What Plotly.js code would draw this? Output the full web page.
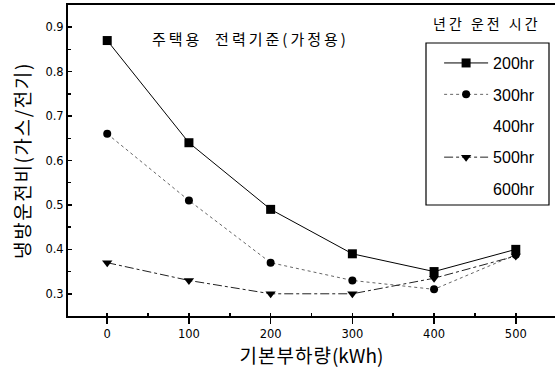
<!DOCTYPE html>
<html><head><meta charset="utf-8">
<script src="https://cdn.plot.ly/plotly-3.0.1.min.js"></script>
<style>html,body{margin:0;padding:0;overflow:hidden;background:#fff}</style>
</head><body>
<div id="chart" style="width:555px;height:370px"></div>
<script>
const loads = [0, 100, 200, 300, 400, 500];
const hr200 = [0.87, 0.64, 0.49, 0.39, 0.35, 0.40];
const hr300 = [0.66, 0.51, 0.37, 0.33, 0.31, 0.388];
const hr500 = [0.37, 0.33, 0.30, 0.30, 0.335, 0.385];
const seriesNames = ['200hr', '300hr', '400hr', '500hr', '600hr'];
const chartTitle = '주택용  전력기준(가정용)';
const legendTitle = '년간 운전 시간';
const xTitleMain = '기본부하량';
const xTitleUnit = '(kWh)';
const yTitle = '냉방운전비(가스/전기)';

const kfont = '"Noto Sans CJK KR", "Noto Sans", sans-serif';
function spaced(t, px) { return '<span style="letter-spacing:' + px + 'px">' + t + '</span>'; }

const traces = [
  {x: loads, y: hr200, name: seriesNames[0], legendgroup: 'a', mode: 'lines+markers',
   line: {color: '#000', width: 1}, marker: {symbol: 'square', size: 9, color: '#000'}},
  {x: loads, y: hr300, name: seriesNames[1], legendgroup: 'b', mode: 'lines+markers',
   line: {color: '#666', width: 1, dash: 'dot'}, marker: {symbol: 'circle', size: 8, color: '#000'}},
  {x: [null], y: [null], name: seriesNames[2], legendgroup: 'c', mode: 'lines',
   line: {color: 'rgba(0,0,0,0)', width: 1}},
  {x: loads, y: hr500, name: seriesNames[3], legendgroup: 'd', mode: 'lines+markers',
   line: {color: '#222', width: 1, dash: 'dashdot'}, marker: {symbol: 'triangle-down', size: 9, color: '#000'}},
  {x: [null], y: [null], name: seriesNames[4], legendgroup: 'e', mode: 'lines',
   line: {color: 'rgba(0,0,0,0)', width: 1}}
];

const layout = {
  width: 555, height: 370,
  margin: {l: 68, r: 0, t: 5, b: 54},
  paper_bgcolor: '#fff', plot_bgcolor: '#fff',
  font: {family: '"Liberation Sans", Arial, sans-serif', color: '#000'},
  showlegend: true,
  legend: {x: 0.762, y: 0.868, xanchor: 'left', yanchor: 'top', bgcolor: 'rgba(0,0,0,0)',
    borderwidth: 0, font: {size: 16, family: '"Liberation Sans", Arial, sans-serif'},
    tracegroupgap: 7.6, itemwidth: 44},
  xaxis: {range: [-48, 548], dtick: 100, tick0: 0, showgrid: false, zeroline: false,
    showline: true, linewidth: 2, linecolor: '#000', mirror: true,
    ticks: 'outside', ticklen: 6, tickwidth: 1.5, tickcolor: '#000',
    minor: {dtick: 50, ticks: 'inside', ticklen: 3, tickcolor: '#000'},
    tickfont: {size: 11.5, family: '"DejaVu Sans", sans-serif'},
    title: {text: spaced(xTitleMain, 1) + xTitleUnit, font: {size: 19, family: kfont}, standoff: 4}},
  yaxis: {range: [0.25, 0.95], dtick: 0.1, tick0: 0.3, showgrid: false, zeroline: false,
    showline: true, linewidth: 2, linecolor: '#000', tickformat: '.1f',
    ticks: 'inside', ticklen: 4, tickwidth: 1.5, tickcolor: '#000',
    minor: {dtick: 0.05, ticks: 'inside', ticklen: 3, tickcolor: '#000'},
    tickfont: {size: 11.5, family: '"DejaVu Sans", sans-serif'},
    title: {text: spaced(yTitle, 1.6), font: {size: 19, family: kfont}, standoff: 10}},
  annotations: [
    {text: spaced(chartTitle, 3), xref: 'paper', yref: 'paper', x: (150-68)/487, y: 1-(38-5)/311,
     xanchor: 'left', yanchor: 'middle', showarrow: false, font: {size: 15, family: kfont}},
    {text: spaced(legendTitle, 3), xref: 'paper', yref: 'paper', x: (487-68)/487, y: 1-(23-5)/311,
     xanchor: 'center', yanchor: 'middle', showarrow: false, font: {size: 14, family: kfont}}
  ],
  shapes: [
    {type: 'rect', xref: 'paper', yref: 'paper', x0: (426-68)/487, x1: (549-68)/487,
     y0: 1-(205-5)/311, y1: 1-(43-5)/311, line: {color: '#000', width: 1.2}}
  ]
};
Plotly.newPlot('chart', traces, layout, {displayModeBar: false, staticPlot: true});
</script>
</body></html>
